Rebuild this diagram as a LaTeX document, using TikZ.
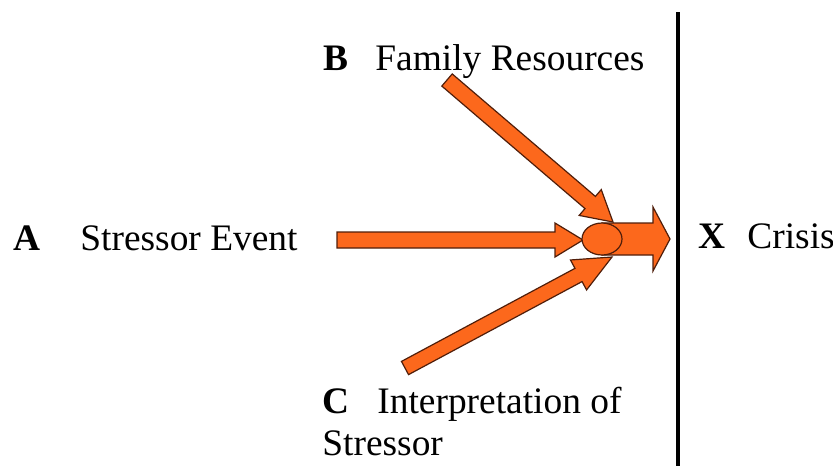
\documentclass[tikz,border=0pt]{standalone}
\usepackage{fontspec}
\setmainfont{Liberation Serif}
\usepackage{xcolor}
\usetikzlibrary{calc,shapes.geometric}

\definecolor{arroworange}{RGB}{252,104,28}
\definecolor{arrowedge}{RGB}{80,30,10}

\newcommand{\blockarrow}[5]{%
	\coordinate (ba-h) at ($(#2)!#5!(#1)$);
	\filldraw[fatarrow] ($(#1)!#3!90:(#2)$) -- ($(ba-h)!#3!-90:(#1)$) -- ($(ba-h)!#4!-90:(#1)$) -- (#2)
		-- ($(ba-h)!#4!90:(#1)$) -- ($(ba-h)!#3!90:(#1)$) -- ($(#1)!#3!-90:(#2)$) -- cycle;
}

\begin{document}
\begin{tikzpicture}[x=0.5pt, y=-0.5pt, font=\fontsize{18.7}{22}\selectfont]
	\tikzstyle{lab}=[inner sep=0pt, anchor=base west]
	\tikzstyle{fatarrow}=[fill=arroworange, draw=arrowedge, line width=0.6pt, line join=miter]
	\useasboundingbox (0,0) rectangle (833,468);

	\node[lab] (A) at (13,250) {\textbf{A}};
	\node[lab] (event) at (80,250) {Stressor Event};
	\node[lab] (B) at (323,70) {\textbf{B}};
	\node[lab] (resources) at (375,70) {Family Resources};
	\node[lab] (C) at (322,413) {\textbf{C}};
	\node[lab] (interp) at (377,413) {Interpretation of};
	\node[lab] (stressor) at (322,455) {Stressor};
	\node[lab] (X) at (698,248) {\textbf{X}};
	\node[lab] (crisis) at (747,248) {Crisis};

	\coordinate (atail) at (337,240);
	\coordinate (btail) at (447,80);
	\coordinate (ctail) at (405,368);
	\coordinate (btip) at (613,222);
	\coordinate (ctip) at (612,257);
	\coordinate (xtip) at (670,239);
	\coordinate (hubc) at (602,239);

	\draw[line width=1.6pt] (678,12) coordinate (ltop) -- (678,466) coordinate (lbot);

	\blockarrow{atail}{583,240}{4pt}{8.5pt}{14pt}
	\blockarrow{btail}{btip}{4pt}{8.5pt}{15pt}
	\blockarrow{ctail}{ctip}{3.75pt}{8.5pt}{19pt}
	\blockarrow{hubc}{xtip}{8pt}{16pt}{8.5pt}
	\node[ellipse, fatarrow, minimum width=20pt, minimum height=16pt, inner sep=0pt] (hub) at (hubc) {};
\end{tikzpicture}
\end{document}
